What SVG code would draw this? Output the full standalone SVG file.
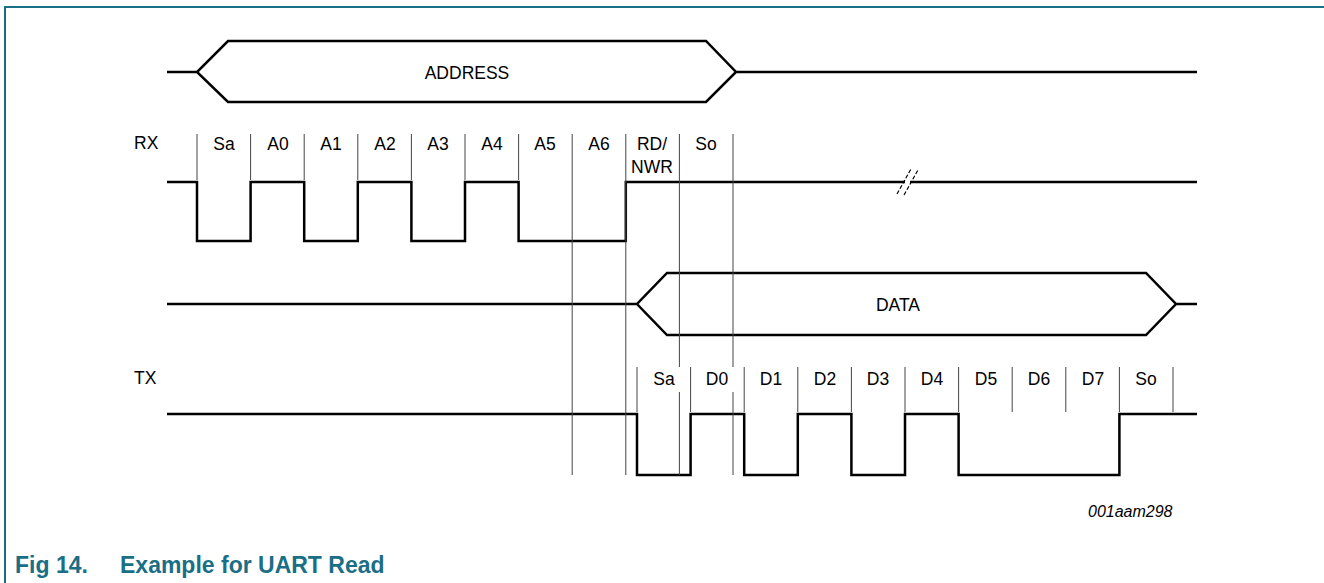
<svg xmlns="http://www.w3.org/2000/svg" width="1324" height="583" viewBox="0 0 1324 583">
<style>
.sig{fill:none;stroke:#000;stroke-width:2.5;stroke-linejoin:miter}
.thin{fill:none;stroke:#444;stroke-width:1}
.lbl{font-family:"Liberation Sans",Arial,sans-serif;font-size:17.5px;fill:#000;text-anchor:middle}
.name{font-family:"Liberation Sans",Arial,sans-serif;font-size:17.5px;fill:#000}
.frame{fill:none;stroke:#1a6e85;stroke-width:2}
.cap{font-family:"Liberation Sans",Arial,sans-serif;font-size:23px;font-weight:bold;fill:#1a6e85}
</style>
<rect width="1324" height="583" fill="#fff"/>
<path class="frame" d="M5,583 V7 H1324"/>
<g id="address">
<path class="sig" d="M167,72 H197 M228,41 H706 L736,72 L706,102 H228 L197,72 L228,41 Z M736,72 H1197"/>
<text class="lbl" x="467" y="79">ADDRESS</text>
</g>
<g id="rx">
<text class="name" x="134" y="149">RX</text>
<path class="sig" d="M167,182 H197 V241 H250.6 V182 H304.2 V241 H357.8 V182 H411.4 V241 H465 V182 H518.6 V241 H625.8 V182 H905 M910,182 H1197"/>
<g class="thin">
<path d="M197,134 V180 M250.6,134 V180 M304.2,134 V180 M357.8,134 V180 M411.4,134 V180 M465,134 V180 M518.6,134 V180"/>
</g>
<path d="M897,194 L911,169 M904,195 L918,170" stroke="#000" stroke-width="1.2" stroke-dasharray="4,2" fill="none"/>
<text class="lbl" x="224" y="150">Sa</text>
<text class="lbl" x="278" y="150">A0</text>
<text class="lbl" x="331" y="150">A1</text>
<text class="lbl" x="385" y="150">A2</text>
<text class="lbl" x="438" y="150">A3</text>
<text class="lbl" x="492" y="150">A4</text>
<text class="lbl" x="545" y="150">A5</text>
<text class="lbl" x="599" y="150">A6</text>
<text class="lbl" x="652" y="150">RD/</text>
<text class="lbl" x="652" y="173">NWR</text>
<text class="lbl" x="706" y="150">So</text>
</g>
<g id="data">
<path class="sig" d="M167,304 H637 M667,273 H1146 L1176,304 L1146,335 H667 L637,304 L667,273 Z M1176,304 H1197"/>
<text class="lbl" x="898" y="311">DATA</text>
</g>
<g id="tx">
<text class="name" x="134" y="384">TX</text>
<path class="sig" d="M167,414 H637 V475 H690.6 V414 H744.2 V475 H797.8 V414 H851.4 V475 H905 V414 H958.6 V475 H1119.4 V414 H1197"/>
<g class="thin">
<path d="M637,367 V412 M690.6,367 V412 M744.2,367 V412 M797.8,367 V412 M851.4,367 V412 M905,367 V412 M958.6,367 V412 M1012.2,367 V412 M1065.8,367 V412 M1119.4,367 V412 M1173,367 V412"/>
</g>
<text class="lbl" x="664" y="385">Sa</text>
<text class="lbl" x="717" y="385">D0</text>
<text class="lbl" x="771" y="385">D1</text>
<text class="lbl" x="825" y="385">D2</text>
<text class="lbl" x="878" y="385">D3</text>
<text class="lbl" x="932" y="385">D4</text>
<text class="lbl" x="986" y="385">D5</text>
<text class="lbl" x="1039" y="385">D6</text>
<text class="lbl" x="1093" y="385">D7</text>
<text class="lbl" x="1146" y="385">So</text>
</g>
<g id="connectors">
<path class="thin" d="M572.2,134 V475 M625.8,134 V475 M679.4,134 V367 M679.4,392 V475 M733,134 V367 M733,392 V475"/>
</g>
<text x="1088" y="517" font-family="'Liberation Sans',Arial,sans-serif" font-size="16" font-style="italic" fill="#000">001aam298</text>
<text class="cap" x="15" y="573">Fig 14.</text>
<text class="cap" x="120" y="573">Example for UART Read</text>
</svg>
